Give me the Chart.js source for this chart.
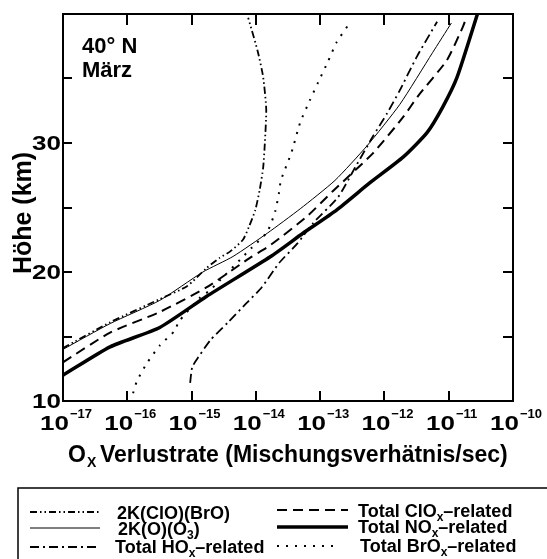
<!DOCTYPE html>
<html>
<head>
<meta charset="utf-8">
<script src="https://cdn.jsdelivr.net/npm/chart.js@4.4.0/dist/chart.umd.min.js"></script>
<style>
  body { margin: 0; background: #fff; }
  #wrap { width: 547px; height: 559px; }
</style>
</head>
<body>
<div id="wrap"><canvas id="chart" width="547" height="559"></canvas></div>
<script>
// Altitude (km) and Ox loss rate (mixing ratio / sec)
const clobroAlt  = [14.1, 16.1, 17.9, 18.9, 20.3, 21.1, 21.6, 22.5, 23.5, 24.8, 26.4, 28.1, 30.0, 32.6, 35.1, 37.1, 39.7];
const clobroRate = [1.0e-17, 5.4e-17, 3.2e-16, 8.5e-16, 1.7e-15, 2.75e-15, 4.0e-15, 6.3e-15, 7.8e-15, 9.8e-15, 1.15e-14, 1.3e-14, 1.38e-14, 1.45e-14, 1.3e-14, 1.07e-14, 7.6e-15];

const oO3Alt  = [14.0, 16.0, 17.8, 20.0, 21.2, 23.0, 24.9, 27.1, 29.8, 33.0, 37.0, 39.3];
const oO3Rate = [1.0e-17, 5.4e-17, 3.2e-16, 1.5e-15, 4.4e-15, 1.5e-14, 4.9e-14, 1.7e-13, 5.4e-13, 1.74e-12, 5.6e-12, 1.1e-11];

const hoxAlt  = [11.4, 12.6, 13.2, 14.7, 16.1, 17.6, 18.8, 20.7, 22.2, 23.8, 25.8, 28.1, 30.5, 32.3, 34.0, 36.7, 39.4];
const hoxRate = [9.5e-16, 1.02e-15, 1.2e-15, 1.95e-15, 3.7e-15, 7.2e-15, 1.23e-14, 2.3e-14, 4.4e-14, 7.8e-14, 1.9e-13, 3.5e-13, 6.6e-13, 1.1e-12, 1.7e-12, 3.2e-12, 6.6e-12];

const cloxAlt  = [13.0, 15.3, 16.9, 18.8, 21.1, 22.1, 24.3, 26.3, 29.2, 32.0, 33.7, 36.4, 39.0, 39.8];
const cloxRate = [1.0e-17, 5.4e-17, 3.2e-16, 1.7e-15, 8.1e-15, 1.7e-14, 6.2e-14, 1.6e-13, 6.6e-13, 1.95e-12, 3.4e-12, 9.3e-12, 1.66e-11, 1.9e-11];

const noxAlt  = [12.0, 14.2, 15.7, 18.1, 21.2, 23.0, 24.8, 26.9, 28.9, 30.8, 32.8, 35.1, 40.0];
const noxRate = [1.0e-17, 5.4e-17, 3.2e-16, 1.7e-15, 1.7e-14, 5.4e-14, 1.8e-13, 5.9e-13, 1.95e-12, 4.6e-12, 8.1e-12, 1.35e-11, 2.8e-11];

const broxAlt  = [10.6, 11.5, 12.9, 14.3, 15.5, 16.1, 18.0, 18.6, 21.9, 23.1, 24.7, 26.2, 27.1, 29.3, 31.6, 33.3, 34.7, 36.3, 37.8, 39.1];
const broxRate = [1.23e-16, 1.4e-16, 2.0e-16, 3.2e-16, 5.6e-16, 6.2e-16, 1.35e-15, 1.95e-15, 8.7e-15, 1.5e-14, 2.0e-14, 2.3e-14, 2.45e-14, 3.6e-14, 4.9e-14, 6.9e-14, 9.3e-14, 1.32e-13, 1.8e-13, 2.7e-13];

// axis ticks
const xTickValues = [1e-17, 1e-16, 1e-15, 1e-14, 1e-13, 1e-12, 1e-11, 1e-10];
const xTickExps = ['\u221217', '\u221216', '\u221215', '\u221214', '\u221213', '\u221212', '\u221211', '\u221210'];
const yTickValues = [10, 15, 20, 25, 30, 35, 40];
const yTickLabels = ['10', '', '20', '', '30', '', ''];

const FONT = "'Liberation Sans', Arial, Helvetica, sans-serif";

function toPoints(alts, rates) {
    return alts.map((h, i) => ({ x: rates[i], y: h }));
}

function series(label, alts, rates, width, dash) {
    return {
        label: label,
        data: toPoints(alts, rates),
        showLine: true,
        borderColor: '#000',
        borderWidth: width,
        borderDash: dash,
        pointRadius: 0,
        tension: 0.2,
        fill: false
    };
}

const datasets = [
    series('2K(ClO)(BrO)', clobroAlt, clobroRate, 1.8, [7, 3, 1.5, 3, 1.5, 3]),
    series('2K(O)(O3)', oO3Alt, oO3Rate, 1, []),
    series('Total HOx-related', hoxAlt, hoxRate, 1.8, [9, 4, 2, 4]),
    series('Total ClOx-related', cloxAlt, cloxRate, 2, [10, 6]),
    series('Total NOx-related', noxAlt, noxRate, 3.5, []),
    series('Total BrOx-related', broxAlt, broxRate, 2, [2, 7])
];

// legend text: [main, subscript, rest]
const legendParts = [
    ['2K(ClO)(BrO)', '', ''],
    ['2K(O)(O', '3', ')'],
    ['Total HO', 'x', '\u2013related'],
    ['Total ClO', 'x', '\u2013related'],
    ['Total NO', 'x', '\u2013related'],
    ['Total BrO', 'x', '\u2013related']
];

function drawRich(ctx, x, y, parts, size, subSize) {
    ctx.font = 'bold ' + size + 'px ' + FONT;
    ctx.fillText(parts[0], x, y);
    x += ctx.measureText(parts[0]).width;
    if (parts[1]) {
        ctx.font = 'bold ' + subSize + 'px ' + FONT;
        ctx.fillText(parts[1], x, y + 4);
        x += ctx.measureText(parts[1]).width;
    }
    if (parts[2]) {
        ctx.font = 'bold ' + size + 'px ' + FONT;
        ctx.fillText(parts[2], x, y);
    }
}

function wideText(ctx, text, x, y, sx) {
    ctx.save();
    ctx.translate(x, y);
    ctx.scale(sx, 1);
    ctx.fillText(text, 0, 0);
    ctx.restore();
}

const decorations = {
    id: 'decorations',
    afterDraw(chart) {
        const ctx = chart.ctx;
        const area = chart.chartArea;
        const xs = chart.scales.x;
        const ys = chart.scales.y;
        ctx.save();
        ctx.strokeStyle = '#000';
        ctx.fillStyle = '#000';
        ctx.setLineDash([]);

        // frame
        ctx.lineWidth = 2;
        ctx.strokeRect(area.left, area.top, area.right - area.left, area.bottom - area.top);

        // inward ticks
        ctx.beginPath();
        xTickValues.forEach(v => {
            const px = Math.round(xs.getPixelForValue(v));
            ctx.moveTo(px, area.bottom);
            ctx.lineTo(px, area.bottom - 10);
            ctx.moveTo(px, area.top);
            ctx.lineTo(px, area.top + 11);
        });
        yTickValues.forEach(v => {
            const py = Math.round(ys.getPixelForValue(v));
            ctx.moveTo(area.left, py);
            ctx.lineTo(area.left + 9, py);
            ctx.moveTo(area.right, py);
            ctx.lineTo(area.right - 10, py);
        });
        ctx.stroke();

        // x tick labels 10^n
        const sx = 1.3;
        ctx.textAlign = 'left';
        ctx.textBaseline = 'alphabetic';
        xTickValues.forEach((v, i) => {
            const px = xs.getPixelForValue(v);
            ctx.font = 'bold 20px ' + FONT;
            const w10 = ctx.measureText('10').width * sx;
            ctx.font = 'bold 13px ' + FONT;
            const wSup = ctx.measureText(xTickExps[i]).width;
            const start = px + 3 - (w10 + 1 + wSup) / 2;
            ctx.font = 'bold 20px ' + FONT;
            wideText(ctx, '10', start, 430, sx);
            ctx.font = 'bold 13px ' + FONT;
            ctx.fillText(xTickExps[i], start + w10 + 1, 418);
        });

        // y tick labels
        ctx.font = 'bold 20px ' + FONT;
        yTickValues.forEach((v, i) => {
            if (!yTickLabels[i]) return;
            const py = ys.getPixelForValue(v);
            const w = ctx.measureText(yTickLabels[i]).width * sx;
            wideText(ctx, yTickLabels[i], 61 - w, py + 7, sx);
        });

        // axis titles
        ctx.font = 'bold 23px ' + FONT;
        ctx.fillText('O', 68, 462);
        const ox = 68 + ctx.measureText('O').width;
        ctx.font = 'bold 14px ' + FONT;
        ctx.fillText('X', ox + 1, 467);
        ctx.font = 'bold 23px ' + FONT;
        ctx.fillText('Verlustrate (Mischungsverh\u00e4tnis/sec)', 100, 462);

        ctx.save();
        ctx.translate(31, 213);
        ctx.rotate(-Math.PI / 2);
        ctx.textAlign = 'center';
        ctx.font = 'bold 25px ' + FONT;
        ctx.fillText('H\u00f6he (km)', 0, 0);
        ctx.restore();

        // annotation
        ctx.font = 'bold 22px ' + FONT;
        ctx.fillText('40\u00b0 N', 82, 53);
        ctx.fillText('M\u00e4rz', 82, 77);

        // legend box
        ctx.lineWidth = 1.5;
        ctx.strokeRect(18, 488, 560, 100);

        const legendPos = [
            { x1: 30, x2: 100, ly: 512, tx: 117, ty: 519 },
            { x1: 30, x2: 100, ly: 528, tx: 118, ty: 535 },
            { x1: 30, x2: 100, ly: 547, tx: 115, ty: 553 },
            { x1: 277, x2: 348, ly: 510, tx: 358, ty: 517 },
            { x1: 277, x2: 348, ly: 527, tx: 358, ty: 533 },
            { x1: 277, x2: 338, ly: 546, tx: 360, ty: 552 }
        ];
        datasets.forEach((ds, i) => {
            const p = legendPos[i];
            ctx.lineWidth = ds.borderWidth;
            ctx.setLineDash(ds.borderDash);
            ctx.beginPath();
            ctx.moveTo(p.x1, p.ly);
            ctx.lineTo(p.x2, p.ly);
            ctx.stroke();
            ctx.setLineDash([]);
            drawRich(ctx, p.tx, p.ty, legendParts[i], 18, 12);
        });

        ctx.restore();
    }
};

new Chart(document.getElementById('chart'), {
    type: 'scatter',
    data: { datasets: datasets },
    options: {
        responsive: false,
        devicePixelRatio: 1,
        animation: false,
        layout: { padding: { left: 63, right: 34, top: 14, bottom: 158 } },
        plugins: {
            legend: { display: false },
            tooltip: { enabled: false }
        },
        scales: {
            x: { type: 'logarithmic', min: 1e-17, max: 1e-10, display: false },
            y: { type: 'linear', min: 10, max: 40, display: false }
        }
    },
    plugins: [decorations]
});
</script>
</body>
</html>
